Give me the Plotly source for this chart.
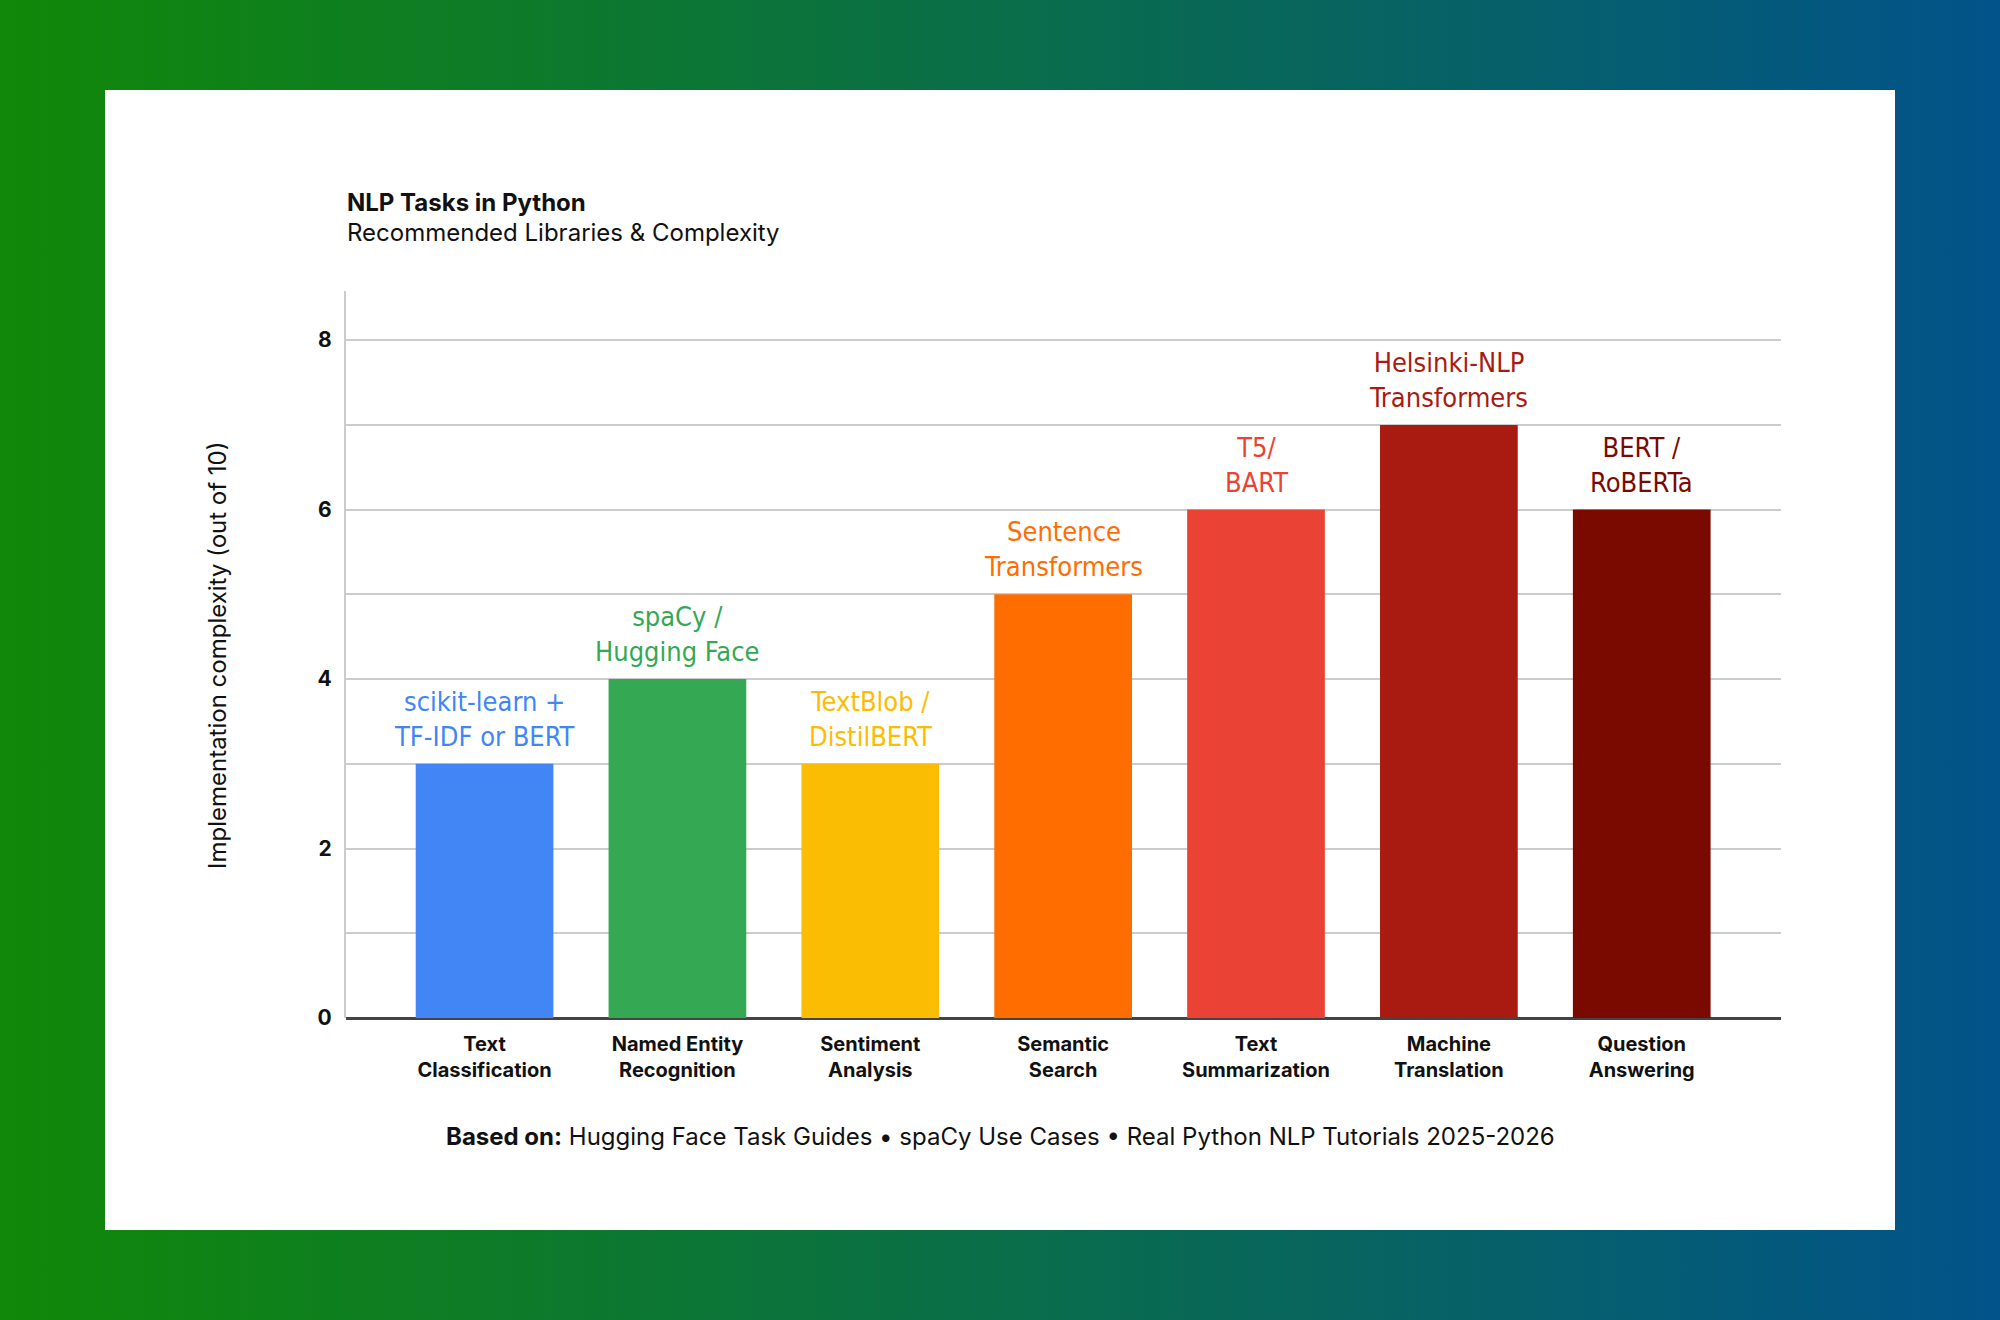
import base64
import plotly.graph_objects as go

# ---- data ----
categories = ["Text Classification", "Named Entity Recognition", "Sentiment Analysis",
              "Semantic Search", "Text Summarization", "Machine Translation", "Question Answering"]
tick_labels = ["Text<br>Classification", "Named Entity<br>Recognition", "Sentiment<br>Analysis",
               "Semantic<br>Search", "Text<br>Summarization", "Machine<br>Translation", "Question<br>Answering"]
complexity = [3, 4, 3, 5, 6, 7, 6]
libraries = ["scikit-learn +<br>TF-IDF or BERT", "spaCy /<br>Hugging Face", "TextBlob /<br>DistilBERT",
             "Sentence<br>Transformers", "T5/<br>BART", "Helsinki-NLP<br>Transformers", "BERT /<br>RoBERTa"]
bar_colors = ["#4285F4", "#34A853", "#FBBC04", "#FF6D00", "#EA4335", "#A91A10", "#7A0900"]

W, H = 2000, 1320

# gradient background as inline SVG image
svg = f'''<svg xmlns="http://www.w3.org/2000/svg" width="{W}" height="{H}" viewBox="0 0 {W} {H}" preserveAspectRatio="none">
<defs><linearGradient id="g" x1="0" y1="0" x2="1" y2="0">
<stop offset="0" stop-color="#118808"/><stop offset="1" stop-color="#02538A"/>
</linearGradient></defs><rect width="{W}" height="{H}" fill="url(#g)"/></svg>'''
svg_uri = "data:image/svg+xml;base64," + base64.b64encode(svg.encode()).decode()

label_font = "DejaVu Sans Condensed, Liberation Sans Narrow, Roboto, sans-serif"
main_font = "Inter, Roboto, sans-serif"

fig = go.Figure()
fig.add_trace(go.Bar(
    x=categories,
    y=complexity,
    marker=dict(color=bar_colors, line=dict(width=0)),
    hoverinfo="skip",
))


def px_x(v):
    return v / W


def px_y(v):
    return 1 - v / H


annotations = [
    dict(text="<b>NLP Tasks in Python</b>", xref="paper", yref="paper",
         x=px_x(345), y=px_y(202), xanchor="left", yanchor="middle", showarrow=False,
         font=dict(family=main_font, size=24, color="#111111")),
    dict(text="Recommended Libraries &amp; Complexity", xref="paper", yref="paper",
         x=px_x(345), y=px_y(232), xanchor="left", yanchor="middle", showarrow=False,
         font=dict(family=main_font, size=24, color="#111111")),
    dict(text="Implementation complexity (out of 10)", xref="paper", yref="paper",
         x=px_x(217), y=px_y(655), xanchor="center", yanchor="middle", showarrow=False,
         textangle=-90, font=dict(family=main_font, size=24, color="#111111")),
    dict(text="<b>Based on:</b> Hugging Face Task Guides • spaCy Use Cases • Real Python NLP Tutorials 2025-2026",
         xref="paper", yref="paper", x=0.5, y=px_y(1136), xanchor="center", yanchor="middle",
         showarrow=False, font=dict(family=main_font, size=24, color="#111111")),
]
for cat, val, lib, col in zip(categories, complexity, libraries, bar_colors):
    annotations.append(dict(
        x=cat, y=val, xref="x", yref="y", text=lib, showarrow=False,
        xanchor="center", yanchor="bottom", yshift=10,
        font=dict(family=label_font, size=27, color=col),
    ))

fig.update_layout(
    width=W, height=H, autosize=False,
    margin=dict(l=0, r=0, t=0, b=0, pad=0, autoexpand=False),
    paper_bgcolor="#118808",
    plot_bgcolor="rgba(0,0,0,0)",
    showlegend=False,
    bargap=0.286,
    font=dict(family=main_font, color="#111111"),
    images=[dict(source=svg_uri, xref="paper", yref="paper", x=0, y=1,
                 sizex=1, sizey=1, xanchor="left", yanchor="top",
                 sizing="stretch", layer="below")],
    shapes=[dict(type="rect", xref="paper", yref="paper",
                 x0=px_x(105), x1=px_x(1895), y0=px_y(1230), y1=px_y(90),
                 fillcolor="white", line=dict(width=0), layer="below")],
    xaxis=dict(
        domain=[px_x(345.7), px_x(1780.6)],
        range=[-0.72, 6.72],
        tickmode="array", tickvals=categories, ticktext=tick_labels,
        tickfont=dict(family=main_font, size=20, color="#111111", weight="bold"),
        showgrid=False, showline=False, zeroline=False,
        ticks="", ticklabelstandoff=12, automargin=False,
    ),
    yaxis=dict(
        domain=[px_y(1018), px_y(291)],
        range=[0, 8.58],
        tickmode="linear", tick0=0, dtick=2,
        tickfont=dict(family=main_font, size=21, color="#111111", weight="bold"),
        showgrid=True, gridcolor="#CCCCCC", gridwidth=1.5,
        minor=dict(dtick=1, showgrid=True, gridcolor="#CCCCCC", gridwidth=1.5),
        showline=True, linecolor="#CCCCCC", linewidth=1.5,
        zeroline=True, zerolinecolor="#444444", zerolinewidth=2.5,
        ticks="", ticklabelstandoff=8, automargin=False,
    ),
    annotations=annotations,
)

fig.write_html("out.html")
